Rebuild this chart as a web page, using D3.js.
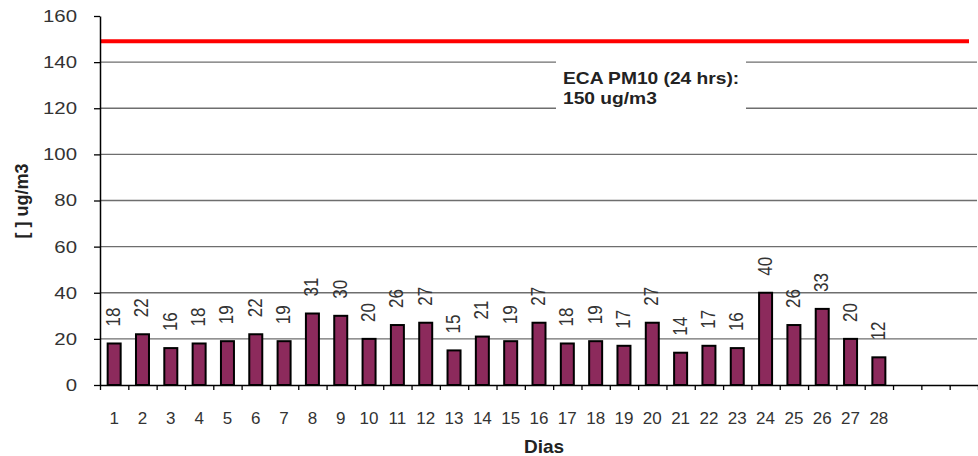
<!DOCTYPE html>
<html>
<head>
<meta charset="utf-8">
<script src="https://cdn.jsdelivr.net/npm/d3@7"></script>
<style>
  body { margin: 0; background: #fff; }
  text { font-family: Arial, "Liberation Sans", sans-serif; }
</style>
</head>
<body>
<script>
// daily PM10 values (days 1..28), month has 31 slots
const dayLabels = ["1","2","3","4","5","6","7","8","9","10","11","12","13","14","15","16","17","18","19","20","21","22","23","24","25","26","27","28"];
const pm10 = [18,22,16,18,19,22,19,31,30,20,26,27,15,21,19,27,18,19,17,27,14,17,16,40,26,33,20,12];
const slotCount = 31;
const yTicks = [0,20,40,60,80,100,120,140,160];
const limitValue = 149;
const limitText = ["ECA PM10 (24 hrs):", "150 ug/m3"];

const width = 978, height = 456;
const plotLeft = 100, plotRight = 978, plotTop = 16, plotBottom = 385;

const svg = d3.select("body").append("svg")
  .attr("width", width)
  .attr("height", height);

const y = d3.scaleLinear().domain([0, 160]).range([plotBottom, plotTop]);
const xs = d3.scaleLinear().domain([0, slotCount]).range([plotLeft, plotRight]);
const x = d3.scaleBand().domain(d3.range(slotCount)).range([plotLeft, plotRight]).padding(0);

// gridlines
svg.selectAll(".grid")
  .data(yTicks.filter(d => d > 0 && d < 160))
  .enter()
  .append("line")
  .attr("class", "grid")
  .attr("x1", plotLeft)
  .attr("x2", plotRight - 1)
  .attr("y1", d => y(d))
  .attr("y2", d => y(d))
  .attr("stroke", "#6e6e6e")
  .attr("stroke-width", 1.4);

// limit line
svg.append("line")
  .attr("x1", plotLeft)
  .attr("x2", 969)
  .attr("y1", y(limitValue))
  .attr("y2", y(limitValue))
  .attr("stroke", "#ff0000")
  .attr("stroke-width", 4);

// annotation box (covers the gridlines)
svg.append("rect")
  .attr("x", 556)
  .attr("y", 56)
  .attr("width", 190)
  .attr("height", 58)
  .attr("fill", "#fff");

svg.selectAll(".note")
  .data(limitText)
  .enter()
  .append("text")
  .attr("class", "note")
  .attr("transform", (d, i) => `translate(563,${84 + i * 19.5}) scale(1.2,1)`)
  .attr("font-size", 16)
  .attr("font-weight", "bold")
  .attr("fill", "#222")
  .text(d => d);

// bars
const barW = 13;
svg.selectAll(".bar")
  .data(pm10)
  .enter()
  .append("rect")
  .attr("class", "bar")
  .attr("x", (d, i) => x(i) + x.bandwidth() / 2 - barW / 2)
  .attr("y", d => y(d))
  .attr("width", barW)
  .attr("height", d => plotBottom - y(d))
  .attr("fill", "#8c2a5c")
  .attr("stroke", "#000")
  .attr("stroke-width", 2);

// value labels, rotated
svg.selectAll(".val")
  .data(pm10)
  .enter()
  .append("text")
  .attr("class", "val")
  .attr("transform", (d, i) => `translate(${x(i) + x.bandwidth() / 2 + 6},${y(d) - 17}) rotate(-90) scale(1,1.2)`)
  .attr("font-size", 17)
  .attr("fill", "#333")
  .text(d => d);

// y axis
const yAxis = svg.append("g")
  .attr("transform", `translate(${plotLeft},0)`)
  .call(d3.axisLeft(y).tickValues(yTicks).tickSize(6).tickSizeOuter(0));
yAxis.select(".domain").attr("stroke", "#000").attr("stroke-width", 1.5);
yAxis.selectAll(".tick line").attr("stroke", "#000").attr("stroke-width", 1.3);
yAxis.selectAll(".tick text")
  .attr("font-size", 17)
  .attr("fill", "#333")
  .attr("font-family", "Arial, 'Liberation Sans', sans-serif")
  .attr("x", -23 / 1.2)
  .attr("transform", "scale(1.2,1)");

// x axis: boundary ticks
const xAxis = svg.append("g")
  .attr("transform", `translate(0,${plotBottom})`)
  .call(d3.axisBottom(xs).tickValues(d3.range(0, slotCount + 1)).tickSize(5).tickSizeOuter(0).tickFormat(""));
xAxis.select(".domain").attr("stroke", "#000").attr("stroke-width", 1.5);
xAxis.selectAll(".tick line").attr("stroke", "#000").attr("stroke-width", 1.3);

// x labels
svg.selectAll(".xlab")
  .data(dayLabels)
  .enter()
  .append("text")
  .attr("class", "xlab")
  .attr("x", (d, i) => x(i) + x.bandwidth() / 2)
  .attr("y", 424)
  .attr("text-anchor", "middle")
  .attr("font-size", 17)
  .attr("fill", "#333")
  .text(d => d);

// axis titles
svg.append("text")
  .attr("x", 544)
  .attr("y", 453)
  .attr("text-anchor", "middle")
  .attr("font-size", 19)
  .attr("font-weight", "bold")
  .attr("fill", "#222")
  .text("Dias");

svg.append("text")
  .attr("transform", "translate(28,201) rotate(-90)")
  .attr("text-anchor", "middle")
  .attr("font-size", 18)
  .attr("font-weight", "bold")
  .attr("fill", "#222")
  .text("[ ] ug/m3");
</script>
</body>
</html>
